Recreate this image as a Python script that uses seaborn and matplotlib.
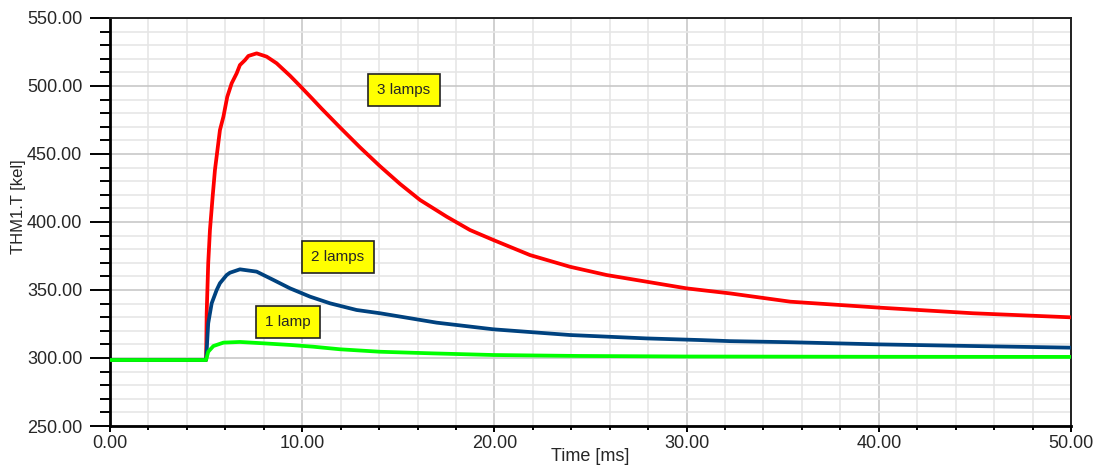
import matplotlib
matplotlib.use("Agg")
import matplotlib.pyplot as plt
from matplotlib.ticker import MultipleLocator, FormatStrFormatter
import seaborn as sns
import pandas as pd

# ---- data ----
t_3 = [0, 5.0, 5.03, 5.11, 5.20, 5.34, 5.46, 5.72, 5.90, 6.10, 6.33, 6.59, 6.76, 7.02, 7.2,
       7.63, 8.15, 8.67, 9.37, 9.89, 10.5, 11.0, 11.97, 13.0, 14.05, 15.09, 16.13, 17.52,
       18.73, 19.94, 21.85, 23.93, 25.84, 27.92, 30.0, 32.26, 35.4, 40.06, 44.9, 50]
T_3 = [298.5, 298.5, 332.9, 369.6, 394.1, 418.6, 438.2, 467.6, 477.4, 492.0, 502.0, 509.3,
       515.4, 519.0, 522.1, 524.0, 521.6, 516.7, 507.5, 500.0, 491.0, 483.5, 469.5, 455.0,
       441.0, 428.0, 416.2, 403.9, 394.1, 386.8, 375.7, 367.1, 361.0, 356.1, 351.2, 347.5,
       341.4, 337.0, 332.9, 329.9]

t_2 = [0, 5.0, 5.11, 5.29, 5.55, 5.72, 6.07, 6.24, 6.76, 7.63, 8.5, 9.37, 10.41, 11.45,
       12.83, 14.05, 16.99, 19.94, 23.93, 27.92, 30.7, 32.26, 35.4, 40.06, 44.9, 50]
T_2 = [298.5, 298.5, 325.5, 340.2, 350.0, 355.0, 361.0, 362.7, 365.2, 363.5, 357.4, 351.2,
       345.1, 340.2, 335.3, 332.9, 326.0, 321.1, 316.9, 314.4, 313.2, 312.4, 311.6, 310.0,
       308.8, 307.6]

t_1 = [0, 5.0, 5.11, 5.38, 5.9, 6.76, 7.98, 9.37, 10.58, 11.97, 14.05, 16.8, 19.94,
       24.44, 30.0, 40.0, 50]
T_1 = [298.5, 298.5, 304.6, 308.8, 311.3, 311.8, 310.8, 309.6, 308.3, 306.4, 304.6, 303.4,
       302.2, 301.5, 301.1, 300.9, 300.8]

series_names = ["3 lamps", "2 lamps", "1 lamp"]
series_colors = ["#ff0000", "#00427f", "#00ff00"]
label_pos_t = [15.29, 11.86, 9.24]
label_pos_T = [497.0, 374.3, 326.5]

x_ticks = [0, 10, 20, 30, 40, 50]
y_ticks = [250, 300, 350, 400, 450, 500, 550]

df = pd.concat([
    pd.DataFrame({"Time": t_3, "T": T_3, "series": series_names[0]}),
    pd.DataFrame({"Time": t_2, "T": T_2, "series": series_names[1]}),
    pd.DataFrame({"Time": t_1, "T": T_1, "series": series_names[2]}),
], ignore_index=True)

sns.set_style("white")
plt.rcParams["font.family"] = ["Liberation Sans", "DejaVu Sans"]

fig = plt.figure(figsize=(10.96, 4.69), dpi=100)
ax = fig.add_axes([110 / 1096, 43 / 469, 961 / 1096, 408 / 469])

sns.lineplot(data=df, x="Time", y="T", hue="series", hue_order=series_names,
             palette=dict(zip(series_names, series_colors)), sort=False,
             linewidth=2.7, legend=False, ax=ax, zorder=3)
for ln in ax.get_lines():
    ln.set_solid_joinstyle("round")
    ln.set_solid_capstyle("butt")

ax.set_xlim(x_ticks[0], x_ticks[-1])
ax.set_ylim(y_ticks[0], y_ticks[-1])
ax.set_xticks(x_ticks)
ax.set_yticks(y_ticks)
ax.xaxis.set_minor_locator(MultipleLocator(2))
ax.yaxis.set_minor_locator(MultipleLocator(10))
ax.xaxis.set_major_formatter(FormatStrFormatter("%.2f"))
ax.yaxis.set_major_formatter(FormatStrFormatter("%.2f"))

ax.grid(which="major", color="#c8c8c8", linewidth=1.2, zorder=0)
ax.grid(which="minor", color="#e6e6e6", linewidth=1.2, zorder=0)
ax.set_axisbelow(True)

ax.tick_params(axis="y", which="major", direction="out", length=14.4, width=1.4,
               labelsize=13, pad=5.5, color="black", left=True)
ax.tick_params(axis="y", which="minor", direction="out", length=7.2, width=1.4,
               color="black", left=True)
ax.tick_params(axis="x", which="major", direction="out", length=4.3, width=1.4,
               labelsize=13, pad=2, color="black", bottom=True)
ax.tick_params(axis="x", which="minor", direction="out", length=2.9, width=1.4,
               color="black", bottom=True)

for side in ["left", "bottom"]:
    ax.spines[side].set_linewidth(2.0)
    ax.spines[side].set_color("black")
for side in ["top", "right"]:
    ax.spines[side].set_linewidth(1.4)
    ax.spines[side].set_color("#202020")
    ax.spines[side].set_visible(True)

ax.set_xlabel("Time [ms]", fontsize=13, labelpad=0)
ax.set_ylabel("THM1.T [kel]", fontsize=12)
ax.xaxis.set_label_coords(0.5, -0.055)
ax.yaxis.set_label_coords(-0.0874, 0.537)

for name, tx, ty in zip(series_names, label_pos_t, label_pos_T):
    ax.text(tx, ty, name, fontsize=11, ha="center", va="center", zorder=5,
            bbox=dict(boxstyle="square,pad=0.6", facecolor="#ffff00",
                      edgecolor="#222222", linewidth=1.2))

fig.savefig("out.png", dpi=100)
